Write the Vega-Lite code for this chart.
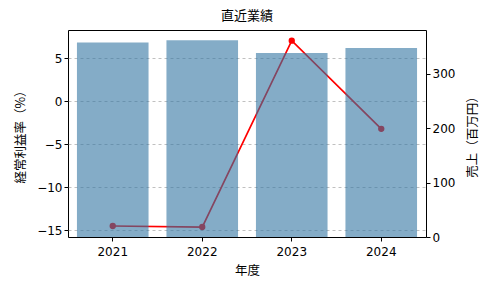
{
  "$schema": "https://vega.github.io/schema/vega-lite/v6.json",
  "width": 358,
  "height": 207,
  "autosize": {"type": "none"},
  "padding": {"left": 68, "top": 30, "right": 64, "bottom": 53},
  "background": "white",
  "title": {"text": "直近業績", "font": "Noto Sans CJK JP", "fontSize": 13, "fontWeight": "normal", "color": "#000000", "offset": 7, "anchor": "middle"},
  "config": {
    "view": {"stroke": "#000000", "strokeWidth": 1},
    "axis": {
      "labelFont": "DejaVu Sans", "labelFontSize": 12, "labelColor": "#000000",
      "titleFont": "Noto Sans CJK JP", "titleFontSize": 12.5, "titleFontWeight": "normal", "titleColor": "#000000",
      "tickColor": "#000000", "tickSize": 4, "domain": false
    }
  },
  "data": {"values": [
    {"year": "2021", "margin": -14.5, "sales": 357},
    {"year": "2022", "margin": -14.62, "sales": 361},
    {"year": "2023", "margin": 7.05, "sales": 338},
    {"year": "2024", "margin": -3.2, "sales": 347}
  ]},
  "encoding": {
    "x": {"field": "year", "type": "ordinal", "scale": {"paddingInner": 0.2, "paddingOuter": 0.1},
      "axis": {"title": "年度", "labelAngle": 0, "labelPadding": 5, "titlePadding": 7, "grid": false}}
  },
  "layer": [
    {
      "encoding": {
        "y": {"field": "margin", "type": "quantitative",
          "scale": {"domain": [-15.78, 8.29], "nice": false, "zero": false},
          "axis": {"orient": "left", "title": "経常利益率（%）", "values": [5, 0, -5, -10, -15], "grid": true,
            "gridColor": "#b0b0b0", "gridDash": [3, 3], "gridWidth": 0.8, "labelPadding": 2, "titlePadding": 9}}
      },
      "layer": [
        {"mark": {"type": "line", "color": "#ff0000", "strokeWidth": 1.7}},
        {"mark": {"type": "point", "filled": true, "color": "#ff0000", "opacity": 1, "size": 40}}
      ]
    },
    {
      "mark": {"type": "bar", "fill": "#3274a1", "opacity": 0.6},
      "encoding": {
        "y": {"field": "sales", "type": "quantitative",
          "scale": {"domain": [0, 380], "nice": false},
          "axis": {"orient": "right", "title": "売上（百万円）", "titleAngle": 270, "values": [0, 100, 200, 300], "grid": false, "labelPadding": 2, "titlePadding": 25}}
      }
    }
  ],
  "resolve": {"scale": {"y": "independent"}, "axis": {"y": "independent"}}
}
